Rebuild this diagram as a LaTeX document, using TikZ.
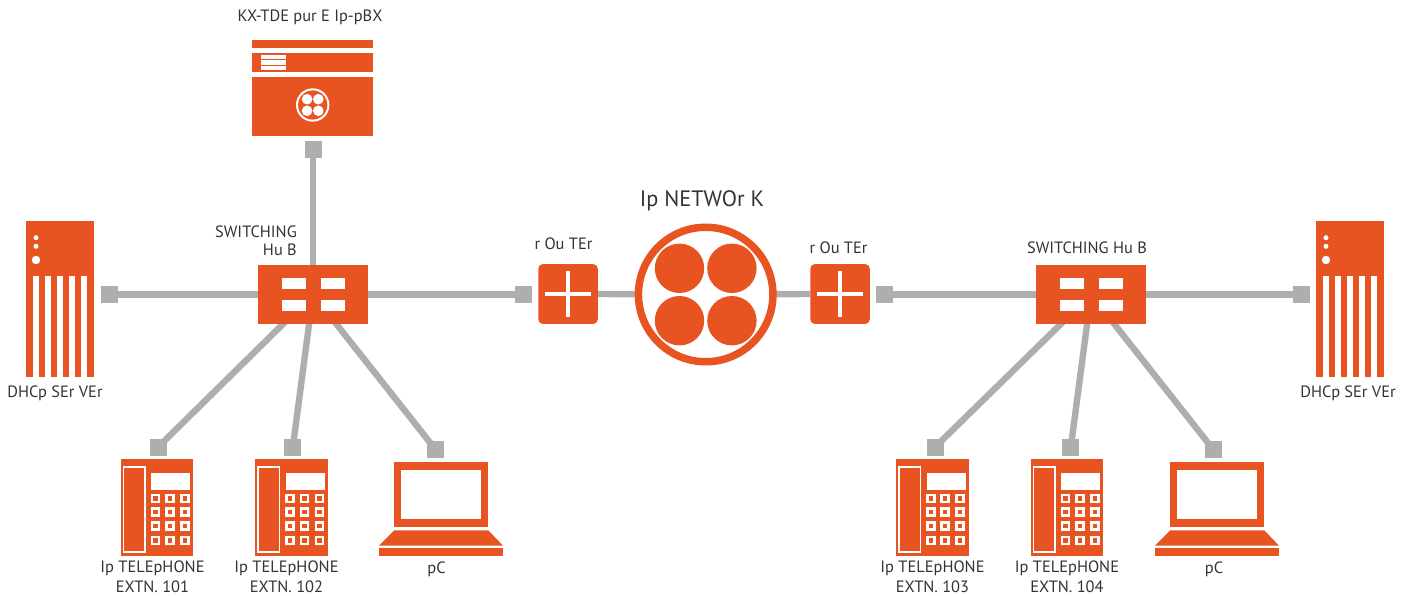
\documentclass[tikz,border=0pt]{standalone}
\usepackage{fontspec}
\setmainfont{PT Sans}
\usetikzlibrary{backgrounds}
\definecolor{ipOrange}{HTML}{E85421}
\definecolor{ipGrey}{HTML}{AEAEAF}
\tikzset{
  lbl/.style={inner sep=0pt,text=black!80,font=\fontsize{16.4}{18}\selectfont},
  body/.style={fill=ipOrange,draw=none,inner sep=0pt},
  port/.style={fill=ipGrey,draw=none,inner sep=0pt,minimum size=17pt},
  cable/.style={draw=ipGrey,line width=6.4pt}
}
\newcommand{\phoneicon}[2]{%
\begin{scope}[shift={(#1,0)}]
\node[body,minimum width=72.3pt,minimum height=96.7pt] (#2) at (156.85,507.65) {};
\draw[white,line width=1.7pt] (123.5,466.8) rectangle (144.9,551.9);
\fill[white] (151,472.7) rectangle (190,490);
\foreach \kx in {155.3,169.7,184.7}
  \foreach \ky in {498.3,512,526,540.3} {
    \fill[white] (\kx-4.8,\ky-4.8) rectangle (\kx+4.8,\ky+4.8);
    \fill[ipOrange] (\kx-2.2,\ky-2.2) rectangle (\kx+2.2,\ky+2.2);
  }
\end{scope}}
\newcommand{\laptopicon}[2]{%
\begin{scope}[shift={(#1,0)}]
\node[body,minimum width=94.6pt,minimum height=65.3pt] (#2) at (441,494.65) {};
\fill[white] (401,470) rectangle (480.7,519.3);
\fill[ipOrange] (394.3,530.3) -- (488.3,530.3) -- (503,545.7) -- (379,545.7) -- cycle;
\fill[ipOrange] (379,548) rectangle (503,556);
\end{scope}}
\newcommand{\servericon}[2]{%
\begin{scope}[shift={(#1,0)}]
\node[body,minimum width=67.7pt,minimum height=156pt] (#2) at (59.85,298.7) {};
\fill[white] (36,237.7) circle (2.5);
\fill[white] (36,246.3) circle (2.5);
\fill[white] (36,260) circle (4.2);
\foreach \sx in {33,45,57,69,81}
  \fill[white] (\sx,275.7) rectangle (\sx+6,376.7);
\end{scope}}
\newcommand{\hubicon}[2]{%
\begin{scope}[shift={(#1,0)}]
\node[body,minimum width=110pt,minimum height=59pt] (#2) at (313,294.5) {};
\foreach \sx in {282,321}
  \foreach \sy in {278,300}
    \fill[white] (\sx,\sy) rectangle (\sx+24,\sy+11);
\end{scope}}
\newcommand{\routericon}[2]{%
\node[body,rounded corners=4.5pt,minimum width=59.5pt,minimum height=59.7pt] (#2) at (#1,294) {};
\fill[white] (#1-23,291.9) rectangle (#1+23,296.2);
\fill[white] (#1-2.15,270.7) rectangle (#1+2.15,317);}

\begin{document}
\begin{tikzpicture}[x=1pt,y=-1pt]
\useasboundingbox (0,0) rectangle (1411,596);

%pbx
\node[body,minimum width=121pt,minimum height=96pt] (pbx) at (312.5,88) {};
\fill[white] (252,48.3) rectangle (373,52.7);
\fill[white] (252,72) rectangle (373,76.7);
\fill[white] (261,55) rectangle (285.5,70);
\fill[ipOrange] (261,59) rectangle (285.5,59.8);
\fill[ipOrange] (261,65) rectangle (285.5,65.8);
\fill[white] (312.7,105) circle (16.7);
\fill[ipOrange] (312.7,105) circle (14.6);
\foreach \dx in {-5.6,5.6}
  \foreach \dy in {-5.8,5.8}
    \fill[white] (312.7+\dx,105+\dy) circle (5.3);
\draw (310,17) node[lbl] (labPbx) {KX-TDE pur E Ip-pBX};

%servers
\servericon{0}{serverL}
\servericon{1290}{serverR}
\draw (55,393) node[lbl] (labServerL) {DHCp SEr VEr};
\draw (1348,393) node[lbl] (labServerR) {DHCp SEr VEr};

%hubs
\hubicon{0}{hubL}
\hubicon{778}{hubR}
\draw (297,232) node[lbl,anchor=east] (labHubLa) {SWITCHING};
\draw (297,250) node[lbl,anchor=east] (labHubLb) {Hu B};
\draw (1087,248) node[lbl] (labHubR) {SWITCHING Hu B};

%routers
\routericon{568}{routerL}
\routericon{840}{routerR}
\draw (563.5,244) node[lbl] (labRouterL) {r Ou TEr};
\draw (838.5,248) node[lbl] (labRouterR) {r Ou TEr};

%network
\node[circle,draw=ipOrange,fill=white,line width=7.5pt,minimum size=134.5pt,inner sep=0pt] (net) at (705.7,294.5) {};
\foreach \dx in {-26.2,26.2}
  \foreach \dy in {-26.2,26.2}
    \fill[ipOrange] (705.7+\dx,294.5+\dy) circle (24.7);
\draw (702,201) node[lbl,font=\fontsize{22.3}{25}\selectfont] (labNet) {Ip NETWOr K};

%phones and laptops
\phoneicon{0}{phoneA}
\phoneicon{134.6}{phoneB}
\phoneicon{775.5}{phoneC}
\phoneicon{910}{phoneD}
\laptopicon{0}{pcL}
\laptopicon{776}{pcR}
\draw (152.5,568) node[lbl] (labPhoneA) {Ip TELEpHONE};
\draw (152.5,587) node[lbl] (labExtA) {EXTN. 101};
\draw (286.5,568) node[lbl] (labPhoneB) {Ip TELEpHONE};
\draw (286.5,587) node[lbl] (labExtB) {EXTN. 102};
\draw (932.5,568) node[lbl] (labPhoneC) {Ip TELEpHONE};
\draw (932.5,587) node[lbl] (labExtC) {EXTN. 103};
\draw (1067,568) node[lbl] (labPhoneD) {Ip TELEpHONE};
\draw (1067,587) node[lbl] (labExtD) {EXTN. 104};
\draw (436.5,569) node[lbl] (labPcL) {pC};
\draw (1214,569) node[lbl] (labPcR) {pC};

%ports
\node[port] (portPbx) at (313,149.3) {};
\node[port] (portServerL) at (109.2,294.5) {};
\node[port] (portRouterL) at (523.3,294.5) {};
\node[port] (portRouterR) at (884.3,294.5) {};
\node[port] (portServerR) at (1301,294.5) {};
\node[port] (portA) at (158,447.2) {};
\node[port] (portB) at (292.8,447.2) {};
\node[port] (portC) at (435.3,449.2) {};
\node[port] (portD) at (935,447.2) {};
\node[port] (portE) at (1070.8,447.2) {};
\node[port] (portF) at (1213,449.2) {};

%cables
\begin{scope}[on background layer]
\draw[cable] (portPbx.center) -- (hubL.center);
\draw[cable] (portServerL.center) -- (hubL.center);
\draw[cable] (hubL.center) -- (portRouterL.center);
\draw[cable] (routerL.east) -- (net.center);
\draw[cable] (net.center) -- (routerR.west);
\draw[cable] (portRouterR.center) -- (hubR.center);
\draw[cable] (hubR.center) -- (portServerR.center);
\draw[cable] (portA.center) -- (hubL.center);
\draw[cable] (portB.center) -- (hubL.center);
\draw[cable] (portC.center) -- (hubL.center);
\draw[cable] (portD.center) -- (hubR.center);
\draw[cable] (portE.center) -- (hubR.center);
\draw[cable] (portF.center) -- (hubR.center);
\end{scope}
\end{tikzpicture}
\end{document}
